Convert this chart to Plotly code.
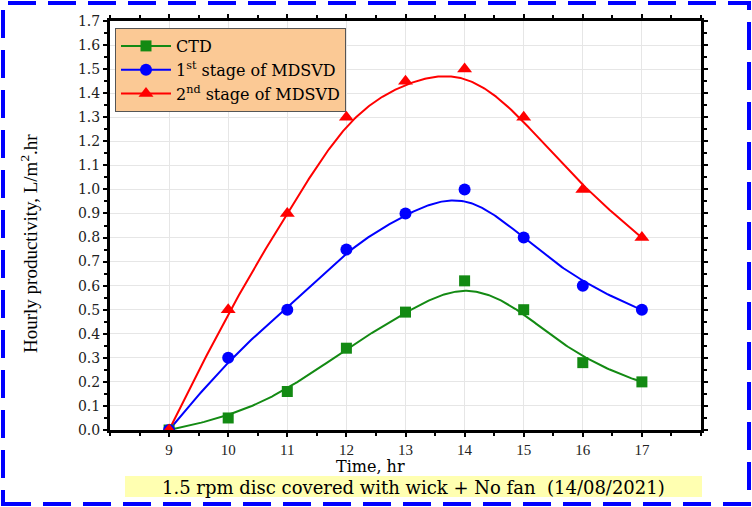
import numpy as np
import plotly.graph_objects as go

hours = [9, 10, 11, 12, 13, 14, 15, 16, 17]
ctd = [0.0, 0.05, 0.16, 0.34, 0.49, 0.62, 0.50, 0.28, 0.20]
stage1 = [0.0, 0.30, 0.50, 0.75, 0.90, 1.00, 0.80, 0.60, 0.50]
stage2 = [0.0, 0.50, 0.90, 1.30, 1.45, 1.50, 1.30, 1.00, 0.80]
x_tick_vals = [9, 10, 11, 12, 13, 14, 15, 16, 17]

SERIF = "Times New Roman, Liberation Serif, serif"
WIDE = "DejaVu Serif, serif"


def bspline(xs, ys, degree=3, samples=300):
    """Clamped uniform B-spline using the data points as control points."""
    P = np.column_stack([xs, ys]).astype(float)
    n = len(P)
    inner = np.arange(1, n - degree)
    knots = np.concatenate([np.zeros(degree + 1), inner, np.full(degree + 1, n - degree)]).astype(float)
    ts = np.linspace(0, n - degree, samples)
    out = []
    for t in ts:
        if t >= knots[-1]:
            out.append(P[-1]); continue
        k = np.searchsorted(knots, t, side="right") - 1
        d = [P[j + k - degree].copy() for j in range(degree + 1)]
        for r in range(1, degree + 1):
            for j in range(degree, r - 1, -1):
                i = j + k - degree
                a = (t - knots[i]) / (knots[i + degree - r + 1] - knots[i])
                d[j] = (1 - a) * d[j - 1] + a * d[j]
        out.append(d[degree])
    out = np.array(out)
    return out[:, 0], out[:, 1]


series = [
    ("CTD", ctd, "#138a13", "square", 11),
    ("1<sup>st</sup> stage of MDSVD", stage1, "#0000ff", "circle", 12),
    ("2<sup>nd</sup> stage of MDSVD", stage2, "#ff0000", "triangle-up", 13),
]

fig = go.Figure()
for name, vals, col, sym, sz in series:
    sx, sy = bspline(hours, vals)
    fig.add_trace(go.Scatter(x=sx, y=sy, mode="lines", line=dict(color=col, width=2),
                             showlegend=False, hoverinfo="skip"))
for name, vals, col, sym, sz in series:
    fig.add_trace(go.Scatter(x=hours, y=vals, mode="markers", name=name,
                             marker=dict(symbol=sym, size=sz, color=col),
                             showlegend=False))
    fig.add_trace(go.Scatter(x=[None], y=[None], mode="lines+markers", name=name,
                             line=dict(color=col, width=2),
                             marker=dict(symbol=sym, size=sz, color=col)))

W, H = 752, 507
L, R, T, B = 110, 51, 21, 77
pw, ph = W - L - R, H - T - B

def px(x):
    return (x - L) / pw

def py(y):
    return (H - B - y) / ph

axis_common = dict(showline=True, linecolor="black", linewidth=3, mirror="allticks",
                   ticks="outside", tickcolor="black", tickwidth=2, ticklen=4,
                   showgrid=True, gridcolor="#e6e6e6", gridwidth=1, zeroline=False)

fig.update_xaxes(range=[8, 18], tickvals=x_tick_vals,
                 tickfont=dict(family=SERIF, size=15, color="#222"),
                 minor=dict(dtick=0.5, tick0=8, ticks="outside", ticklen=3, tickwidth=2,
                            tickcolor="black", showgrid=False),
                 **axis_common)
fig.update_yaxes(range=[0, 1.7], dtick=0.1, tick0=0, tickformat=".1f",
                 tickfont=dict(family=WIDE, size=14, color="#222"),
                 minor=dict(dtick=0.05, tick0=0, ticks="outside", ticklen=3, tickwidth=2,
                            tickcolor="black", showgrid=False),
                 **axis_common)

fig.update_layout(
    width=W, height=H,
    margin=dict(l=L, r=R, t=T, b=B),
    paper_bgcolor="white", plot_bgcolor="white",
    legend=dict(x=px(115), y=py(28), xanchor="left", yanchor="top",
                bgcolor="#fbc995", bordercolor="#555555", borderwidth=1,
                font=dict(family=WIDE, size=16, color="black"),
                itemwidth=50, tracegroupgap=0),
    shapes=[
        dict(type="rect", xref="paper", yref="paper",
             x0=px(3), x1=px(749), y0=py(504), y1=py(3),
             line=dict(color="#0000ff", width=4, dash="28px,12px"), layer="above"),
        dict(type="rect", xref="paper", yref="paper",
             x0=px(125), x1=px(702), y0=py(497), y1=py(476),
             fillcolor="#ffff9e", line=dict(width=0), opacity=0.8, layer="below"),
    ],
    annotations=[
        dict(text="1.5 rpm disc covered with wick + No fan  (14/08/2021)",
             xref="paper", yref="paper", x=px(413), y=py(487), xanchor="center", yanchor="middle",
             showarrow=False, font=dict(family=WIDE, size=18, color="black")),
        dict(text="Time, hr", xref="paper", yref="paper", x=px(370), y=py(466),
             xanchor="center", yanchor="middle", showarrow=False,
             font=dict(family=WIDE, size=16, color="black")),
        dict(text="Hourly productivity, L/m<sup>2</sup>.hr", xref="paper", yref="paper",
             x=px(29), y=py(244), xanchor="center", yanchor="middle", textangle=-90,
             showarrow=False, font=dict(family=SERIF, size=19, color="black")),
    ],
)

fig.write_html("out.html", config={"displayModeBar": False},
               post_script="document.body.style.margin='0';")
